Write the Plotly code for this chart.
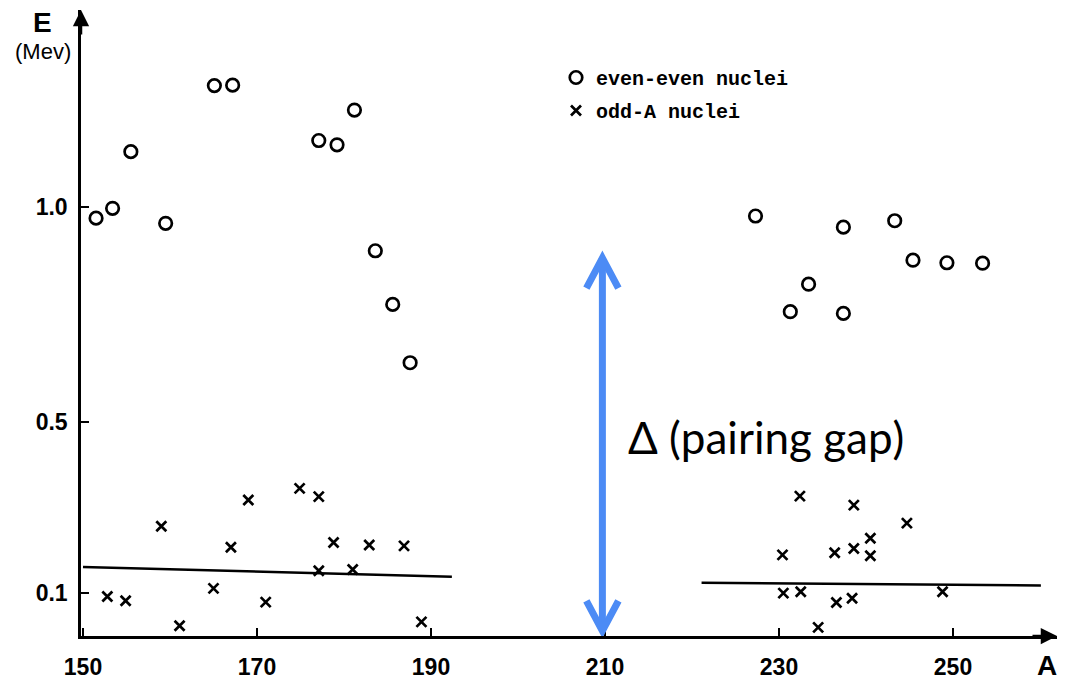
import plotly.graph_objects as go

# ---------------- data ----------------
A_even = [151.5, 153.4, 155.5, 159.5, 165.1, 167.2, 177.1, 179.2, 181.2, 183.6, 185.6, 187.6,
          227.3, 231.3, 233.4, 237.4, 237.4, 243.3, 245.4, 249.3, 253.4]
E_even = [0.974, 0.997, 1.129, 0.962, 1.283, 1.284, 1.155, 1.145, 1.226, 0.898, 0.773, 0.637,
          0.979, 0.756, 0.820, 0.953, 0.752, 0.968, 0.876, 0.870, 0.869]

A_odd = [152.8, 154.9, 159.0, 161.1, 165.0, 167.0, 169.0, 171.0, 174.9, 177.1, 177.1, 178.8,
         181.0, 182.9, 186.9, 188.9,
         230.4, 230.5, 232.4, 232.5, 234.5, 236.4, 236.6, 238.4, 238.6, 238.6, 240.5, 240.5,
         244.7, 248.8]
E_odd = [0.092, 0.082, 0.256, 0.024, 0.111, 0.207, 0.317, 0.079, 0.344, 0.325, 0.152, 0.218,
         0.155, 0.212, 0.210, 0.033,
         0.189, 0.100, 0.326, 0.103, 0.020, 0.194, 0.078, 0.088, 0.305, 0.204, 0.228, 0.187,
         0.263, 0.103]

# reference levels drawn as lines
level_left_A = [150.0, 192.4]
level_left_E = [0.161, 0.138]
level_right_A = [221.1, 260.1]
level_right_E = [0.124, 0.118]

# pairing-gap arrow
gap_A = 209.7
gap_E = [0.012, 0.881]

x_ticks = [150, 170, 190, 210, 230, 250]
y_ticks = [0.1, 0.5, 1.0]
y_tick_labels = ["0.1", "0.5", "1.0"]

# ---------------- layout geometry ----------------
W, H = 1066, 688
ML, MR, MT, MB = 81, 9, 10, 52
PW, PH = W - ML - MR, H - MT - MB
KX, KY = 8.7, 429.0          # pixels per unit
X0 = 149.77
X1 = X0 + PW / KX
Y0 = 0.0
Y1 = Y0 + PH / KY


def px(x):
    return (x - ML) / PW


def py(y):
    return 1 - (y - MT) / PH


BLUE = "#4C8BF5"
TXT = "Liberation Sans"

fig = go.Figure()

fig.add_trace(go.Scatter(x=level_left_A, y=level_left_E, mode="lines",
                         line=dict(color="black", width=2.5), showlegend=False,
                         hoverinfo="skip"))
fig.add_trace(go.Scatter(x=level_right_A, y=level_right_E, mode="lines",
                         line=dict(color="black", width=2.5), showlegend=False,
                         hoverinfo="skip"))

fig.add_trace(go.Scatter(x=A_even, y=E_even, mode="markers", name="even-even nuclei",
                         legendgroup="a",
                         marker=dict(symbol="circle-open", size=12.5, color="black",
                                     line=dict(width=2.7, color="black"))))
fig.add_trace(go.Scatter(x=A_odd, y=E_odd, mode="markers", name="odd-A nuclei",
                         legendgroup="b",
                         marker=dict(symbol="x-thin-open", size=10, color="black",
                                     line=dict(width=2.7, color="black"))))

# pairing-gap double arrow
dxa, dya = 16 / KX, 30 / KY
shapes = [
    dict(type="line", x0=gap_A, x1=gap_A, y0=gap_E[0], y1=gap_E[1], xref="x", yref="y",
         line=dict(color=BLUE, width=7), layer="above"),
    dict(type="path", xref="x", yref="y", layer="above",
         path=f"M {gap_A - dxa},{gap_E[1] - dya} L {gap_A},{gap_E[1]} L {gap_A + dxa},{gap_E[1] - dya}",
         line=dict(color=BLUE, width=7)),
    dict(type="path", xref="x", yref="y", layer="above",
         path=f"M {gap_A - dxa},{gap_E[0] + dya} L {gap_A},{gap_E[0]} L {gap_A + dxa},{gap_E[0] + dya}",
         line=dict(color=BLUE, width=7)),
]

annotations = [
    # axis arrowheads
    dict(x=X1, y=Y0, xref="x", yref="y", ax=-26, ay=0, text="", showarrow=True,
         arrowhead=2, arrowsize=1.3, arrowwidth=2.5, arrowcolor="black"),
    dict(x=X0, y=Y1, xref="x", yref="y", ax=0, ay=26, text="", showarrow=True,
         arrowhead=2, arrowsize=1.3, arrowwidth=2.5, arrowcolor="black"),
    # axis titles
    dict(x=px(42), y=py(23), xref="paper", yref="paper", text="<b>E</b>", showarrow=False,
         font=dict(family=TXT, size=28, color="black"), xanchor="center", yanchor="middle"),
    dict(x=px(43), y=py(52), xref="paper", yref="paper", text="(Mev)", showarrow=False,
         font=dict(family=TXT, size=22, color="black"), xanchor="center", yanchor="middle"),
    dict(x=px(1047), y=py(665), xref="paper", yref="paper", text="<b>A</b>", showarrow=False,
         font=dict(family=TXT, size=28, color="black"), xanchor="center", yanchor="middle"),
    # gap label
    dict(x=px(626), y=py(437), xref="paper", yref="paper", text="Δ (pairing gap)",
         showarrow=False, font=dict(family="Lato", size=44, color="black"),
         xanchor="left", yanchor="middle"),
]

fig.update_layout(
    width=W, height=H,
    margin=dict(l=ML, r=MR, t=MT, b=MB, autoexpand=False),
    paper_bgcolor="white", plot_bgcolor="white",
    showlegend=True,
    legend=dict(x=px(556), y=py(58), xanchor="left", yanchor="top",
                bgcolor="rgba(0,0,0,0)", tracegroupgap=4,
                font=dict(family="Liberation Mono", size=20, color="black", weight="bold")),
    shapes=shapes,
    annotations=annotations,
    xaxis=dict(range=[X0, X1], showline=True, linecolor="black", linewidth=2.5,
               ticks="inside", ticklen=8, tickwidth=2, tickcolor="black",
               tickvals=x_ticks, ticktext=[str(v) for v in x_ticks],
               showgrid=False, zeroline=False, ticklabelstandoff=9, automargin=False,
               tickfont=dict(family=TXT, size=23, color="black", weight="bold")),
    yaxis=dict(range=[Y0, Y1], showline=True, linecolor="black", linewidth=2.5,
               ticks="inside", ticklen=8, tickwidth=2, tickcolor="black",
               tickvals=y_ticks, ticktext=y_tick_labels,
               showgrid=False, zeroline=False, ticklabelstandoff=6, automargin=False,
               tickfont=dict(family=TXT, size=23, color="black", weight="bold")),
)

fig.write_html("out.html")
